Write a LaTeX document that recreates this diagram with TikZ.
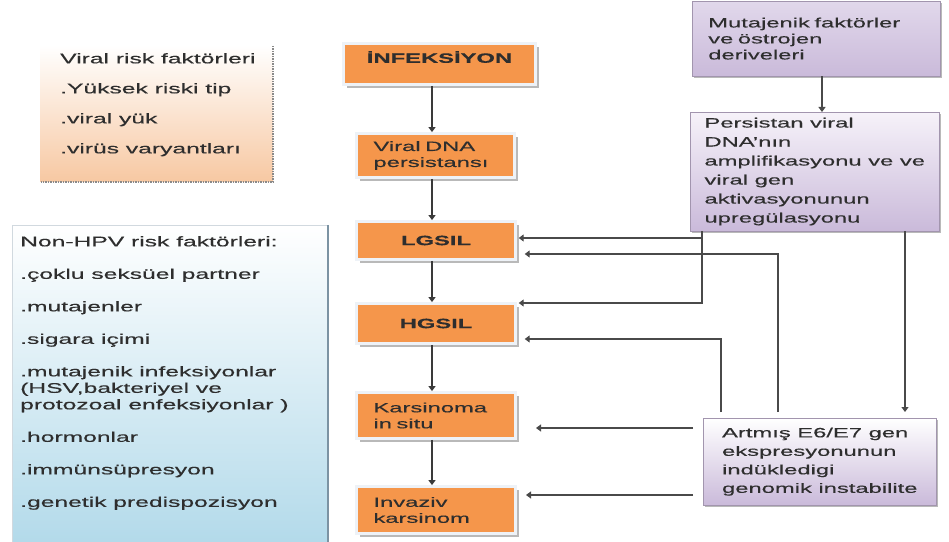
\documentclass[tikz,border=0pt]{standalone}
\usepackage{fontspec}
\setmainfont{Liberation Sans}[FakeStretch=1.76, FakeBold=0.35]
\usetikzlibrary{arrows.meta}
\usetikzlibrary{shadows}
\definecolor{stepBgColor}{HTML}{F5964B}
\definecolor{stepFrameColor}{HTML}{EEF2F7}
\definecolor{agentTopColor}{HTML}{F6F2F9}
\definecolor{agentBottomColor}{HTML}{CABADA}
\definecolor{mutTopColor}{HTML}{E1D8EB}
\definecolor{viralTopColor}{HTML}{FFFFFF}
\definecolor{viralBottomColor}{HTML}{F7C8A2}
\definecolor{hostTopColor}{HTML}{FFFFFF}
\definecolor{hostBottomColor}{HTML}{B3DAEA}
\definecolor{hostEdgeColor}{HTML}{7C93A3}
\definecolor{shadowColor}{HTML}{8A8A8A}
\definecolor{linkColor}{HTML}{4A4A4A}
\definecolor{mainLinkColor}{HTML}{3A3A3A}
\definecolor{labelTextColor}{HTML}{2E2E2E}
\def\textStepA{\bfseries İNFEKSİYON}
\def\textStepB{Viral DNA\\persistansı}
\def\textStepC{\bfseries LGSIL}
\def\textStepD{\bfseries HGSIL}
\def\textStepE{Karsinoma\\in situ}
\def\textStepF{Invaziv\\karsinom}

\begin{document}
\begin{tikzpicture}[x=1bp,y=-1bp,
  font=\fontsize{13.5bp}{16bp}\selectfont,
  every node/.style={text=labelTextColor},
  stepbox/.style={rectangle, fill=stepBgColor, draw=stepFrameColor, line width=3bp,
    inner ysep=0pt, inner xsep=17bp, align=left,
    drop shadow={shadow xshift=3.5bp, shadow yshift=-3.5bp, fill=shadowColor, opacity=.6}},
  agentbox/.style={rectangle, top color=agentTopColor, bottom color=agentBottomColor,
    draw=agentBottomColor!80!black, line width=.5bp, inner ysep=0pt, align=left,
    anchor=north west,
    drop shadow={shadow xshift=2bp, shadow yshift=-2bp, fill=shadowColor, opacity=.6}},
  risklist/.style={anchor=north west, inner sep=0pt, align=left},
  link/.style={draw=linkColor, line width=1.1bp, -{Triangle[length=5bp,width=7bp]}},
  mainlink/.style={link, draw=mainLinkColor, line width=1.6bp},
  boxedge/.style={draw=shadowColor, line width=1.2bp, dash pattern=on 1.5bp off 1bp}
]
\useasboundingbox (0, 0) rectangle (949, 542);

% risk factor layer
\begin{scope}
\shade[top color=viralTopColor, bottom color=viralBottomColor] (40, 45) rectangle (273, 182);
\draw[boxedge] (273, 46) -- (273, 182) -- (41, 182);
\node[risklist, font=\fontsize{14bp}{16bp}\selectfont] (viralRisk) at (60, 53) {Viral risk faktörleri\\[14bp]
.Yüksek riski tip\\[14bp]
.viral yük\\[14bp]
.virüs varyantları};

\shade[top color=hostTopColor, bottom color=hostBottomColor] (12, 225) rectangle (328, 542);
\draw[hostEdgeColor!35] (12, 542) -- (12, 225) -- (328, 225);
\draw[hostEdgeColor, line width=1.5bp] (328, 225) -- (328, 542);
\node[risklist, font=\fontsize{14bp}{16.5bp}\selectfont] (hostRisk) at (20, 236) {Non-HPV risk faktörleri:\\[16bp]
.çoklu seksüel partner\\[16bp]
.mutajenler\\[16bp]
.sigara içimi\\[16bp]
.mutajenik infeksiyonlar\\
(HSV,bakteriyel ve\\
protozoal enfeksiyonlar )\\[16bp]
.hormonlar\\[16bp]
.immünsüpresyon\\[16bp]
.genetik predispozisyon};
\end{scope}

% step layer
\begin{scope}
\node[stepbox, minimum width=192, minimum height=41, text depth=14bp] (infek) at (439.5, 64) {\textStepA};
\node[stepbox, minimum width=158, minimum height=44, text width=124bp] (dna) at (435.5, 155.5) {\textStepB};
\node[stepbox, minimum width=159, minimum height=38] (lgsil) at (436, 240.5) {\textStepC};
\node[stepbox, minimum width=159, minimum height=40] (hgsil) at (436, 323.5) {\textStepD};
\node[stepbox, minimum width=159, minimum height=46, text width=125bp] (cis) at (436, 415.5) {\textStepE};
\node[stepbox, minimum width=159, minimum height=47, text width=125bp] (inv) at (436, 510) {\textStepF};
\end{scope}

% agent layer
\begin{scope}
\node[agentbox, top color=mutTopColor, minimum width=248, minimum height=75,
  inner xsep=16bp, text width=216bp] (mut) at (692, 1) {Mutajenik faktörler\\ve östrojen\\deriveleri};
\node[agentbox, minimum width=250, minimum height=119,
  font=\fontsize{13.5bp}{19bp}\selectfont] (persist) at (690, 112) {Persistan viral\\DNA'nın\\amplifikasyonu ve ve\\viral gen\\aktivasyonunun\\upregülasyonu};
\node[agentbox, top color=white, minimum width=234, minimum height=87,
  font=\fontsize{13.5bp}{18.5bp}\selectfont] (artmis) at (703, 418) {Artmış E6/E7 gen\\ekspresyonunun\\indükledigi\\genomik instabilite};
\end{scope}

% link layer
\begin{scope}
\coordinate (colMain) at (432, 0);
\draw[mainlink] (infek.south -| colMain) -- (dna.north -| colMain);
\draw[mainlink] (dna.south -| colMain) -- (lgsil.north -| colMain);
\draw[mainlink] (lgsil.south -| colMain) -- (hgsil.north -| colMain);
\draw[mainlink] (hgsil.south -| colMain) -- (cis.north -| colMain);
\draw[mainlink] (cis.south -| colMain) -- (inv.north -| colMain);

\coordinate (colM) at (822, 0);
\draw[link] (mut.south -| colM) -- (persist.north -| colM);

\coordinate (tapA) at (702, 238);
\coordinate (bendA) at (702, 303);
\draw[link, shorten >=2bp] (tapA) -- (lgsil.east |- tapA);
\draw[link, shorten >=2bp] (persist.south -| tapA) -- (bendA) -- (hgsil.east |- bendA);

\coordinate (bendB) at (778, 254);
\draw[link, shorten <=6bp, shorten >=8bp] (artmis.north -| bendB) -- (bendB) -- (lgsil.east |- bendB);
\coordinate (bendC) at (721, 339);
\draw[link, shorten <=6bp, shorten >=8bp] (artmis.north -| bendC) -- (bendC) -- (hgsil.east |- bendC);

\coordinate (colD) at (905, 0);
\draw[link, shorten >=6bp] (persist.south -| colD) -- (artmis.north -| colD);

\coordinate (rowCis) at (0, 428);
\coordinate (rowInv) at (0, 495);
\draw[link, shorten <=10bp, shorten >=19bp] (artmis.west |- rowCis) -- (cis.east |- rowCis);
\draw[link, shorten <=10bp, shorten >=9bp] (artmis.west |- rowInv) -- (inv.east |- rowInv);
\end{scope}
\end{tikzpicture}
\end{document}
